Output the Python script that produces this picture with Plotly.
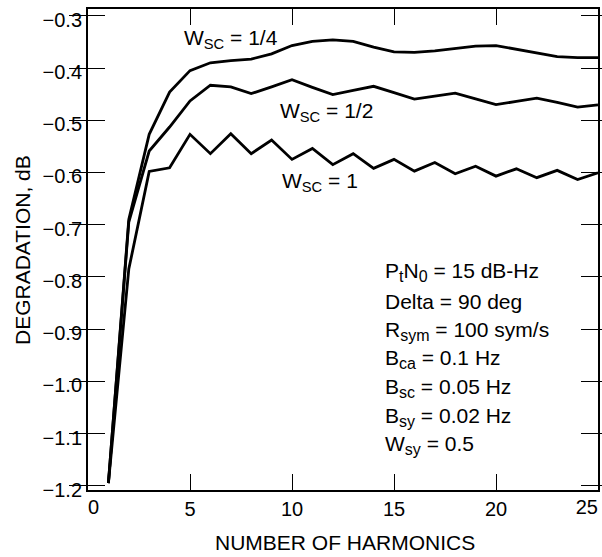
import plotly.graph_objects as go

# ---- data ----
harmonics = list(range(1, 26))
deg_wsc_quarter = [-1.195, -0.690, -0.527, -0.446, -0.405, -0.390, -0.386, -0.383, -0.373,
                   -0.357, -0.349, -0.346, -0.349, -0.360, -0.369, -0.370, -0.367, -0.362,
                   -0.358, -0.357, -0.364, -0.372, -0.378, -0.380, -0.380]
deg_wsc_half = [-1.195, -0.695, -0.559, -0.513, -0.463, -0.433, -0.436, -0.449, -0.436,
                -0.4225, -0.437, -0.451, -0.443, -0.435, -0.447, -0.4596, -0.454, -0.448,
                -0.459, -0.470, -0.464, -0.4577, -0.466, -0.475, -0.4705]
deg_wsc_one = [-1.195, -0.785, -0.598, -0.591, -0.527, -0.564, -0.526, -0.564, -0.538,
               -0.575, -0.554, -0.585, -0.564, -0.592, -0.575, -0.5975, -0.581, -0.6025,
               -0.588, -0.607, -0.593, -0.610, -0.596, -0.6135, -0.6006]

x_ticks_mid = [5, 10, 15, 20]
x_tick_first = 0
x_tick_last = 25
y_ticks = [-0.3, -0.4, -0.5, -0.6, -0.7, -0.8, -0.9, -1.0, -1.1, -1.2]
x_range = [0, 25]
y_range = [-1.208, -0.287]

SUB = '<sub><span style="font-size:16px">{}</span></sub>'
curve_labels = ["W<sub>SC</sub> = 1/4", "W<sub>SC</sub> = 1/2", "W<sub>SC</sub> = 1"]
param_lines = [
    "P" + SUB.format("t") + "N" + SUB.format("0") + " = 15 dB-Hz",
    "Delta = 90 deg",
    "R" + SUB.format("sym") + " = 100 sym/s",
    "B" + SUB.format("ca") + " = 0.1 Hz",
    "B" + SUB.format("sc") + " = 0.05 Hz",
    "B" + SUB.format("sy") + " = 0.02 Hz",
    "W" + SUB.format("sy") + " = 0.5",
]

FONT = "Liberation Sans, Arial, Helvetica, sans-serif"
W, H = 602, 557
ML, MR, MT, MB = 88, 4, 9, 67
PW, PH = W - ML - MR, H - MT - MB
AF = 21  # annotation font size


def px_to_paper_x(px):
    return (px - ML) / PW


def px_to_paper_y(py):
    return (H - MB - py) / PH


fig = go.Figure()
for ys in (deg_wsc_quarter, deg_wsc_half, deg_wsc_one):
    fig.add_trace(go.Scatter(x=harmonics, y=ys, mode="lines",
                             line=dict(color="black", width=2.8),
                             showlegend=False, hoverinfo="skip"))
# empty helper traces so the edge-label axes get drawn
for ax in ("x2", "x3"):
    fig.add_trace(go.Scatter(x=[None], y=[None], xaxis=ax, yaxis="y", mode="lines",
                             showlegend=False, hoverinfo="skip"))

annotations = []
label_pos = [(183, 29), (279, 101.7), (280.5, 172.3)]
for txt, (lx, ly) in zip(curve_labels, label_pos):
    annotations.append(dict(text=txt, xref="paper", yref="paper",
                            x=px_to_paper_x(lx - 1), y=px_to_paper_y(ly - 1 - 0.189 * AF),
                            xanchor="left", yanchor="top", showarrow=False,
                            font=dict(family=FONT, size=AF, color="black")))
cap_tops = [262.3, 292.7, 321.0, 349.3, 378.3, 406.7, 435.3]
for txt, ct in zip(param_lines, cap_tops):
    annotations.append(dict(text=txt, xref="paper", yref="paper",
                            x=px_to_paper_x(383), y=px_to_paper_y(ct - 1 - 0.189 * AF),
                            xanchor="left", yanchor="top", showarrow=False,
                            font=dict(family=FONT, size=AF, color="black")))
annotations.append(dict(text="NUMBER OF HARMONICS", xref="paper", yref="paper",
                        x=px_to_paper_x(344.5), y=px_to_paper_y(534.3 - 1 - 0.189 * 21),
                        xanchor="center", yanchor="top", showarrow=False,
                        font=dict(family=FONT, size=21, color="black")))
annotations.append(dict(text="DEGRADATION, dB", xref="paper", yref="paper",
                        x=px_to_paper_x(22), y=px_to_paper_y(250), textangle=-90,
                        xanchor="center", yanchor="middle", showarrow=False,
                        font=dict(family=FONT, size=21, color="black")))

edge_axis = dict(range=x_range, overlaying="x", anchor="y", side="bottom",
                 ticks="", showline=False, showgrid=False, zeroline=False,
                 automargin=False, fixedrange=True, ticklabeloverflow="allow",
                 ticklabelstandoff=3,
                 tickfont=dict(family=FONT, size=20, color="black"))

fig.update_layout(
    width=W, height=H,
    margin=dict(l=ML, r=MR, t=MT, b=MB, pad=0, autoexpand=False),
    paper_bgcolor="white", plot_bgcolor="white",
    font=dict(family=FONT, size=20, color="black"),
    annotations=annotations,
    xaxis=dict(range=x_range, tickvals=x_ticks_mid,
               ticks="inside", ticklen=16, tickwidth=1.2, tickcolor="black",
               automargin=False,
               showline=True, linewidth=2, linecolor="black", mirror="allticks",
               showgrid=False, zeroline=False, fixedrange=True),
    xaxis2=dict(edge_axis, tickvals=[x_tick_last], ticktext=[str(x_tick_last)],
                ticklabelposition="outside left"),
    xaxis3=dict(edge_axis, tickvals=[x_tick_first], ticktext=[str(x_tick_first)],
                ticklabelposition="outside right"),
    yaxis=dict(range=y_range, tickvals=y_ticks, tickformat=".1f",
               ticks="inside", ticklen=17, tickwidth=1.2, tickcolor="black",
               ticklabelshift=4, automargin=False,
               showline=True, linewidth=2, linecolor="black", mirror="allticks",
               showgrid=False, zeroline=False, fixedrange=True),
)

fig.write_html("out.html", config={"displayModeBar": False},
               post_script="document.body.style.margin='0';document.body.style.overflow='hidden';")
